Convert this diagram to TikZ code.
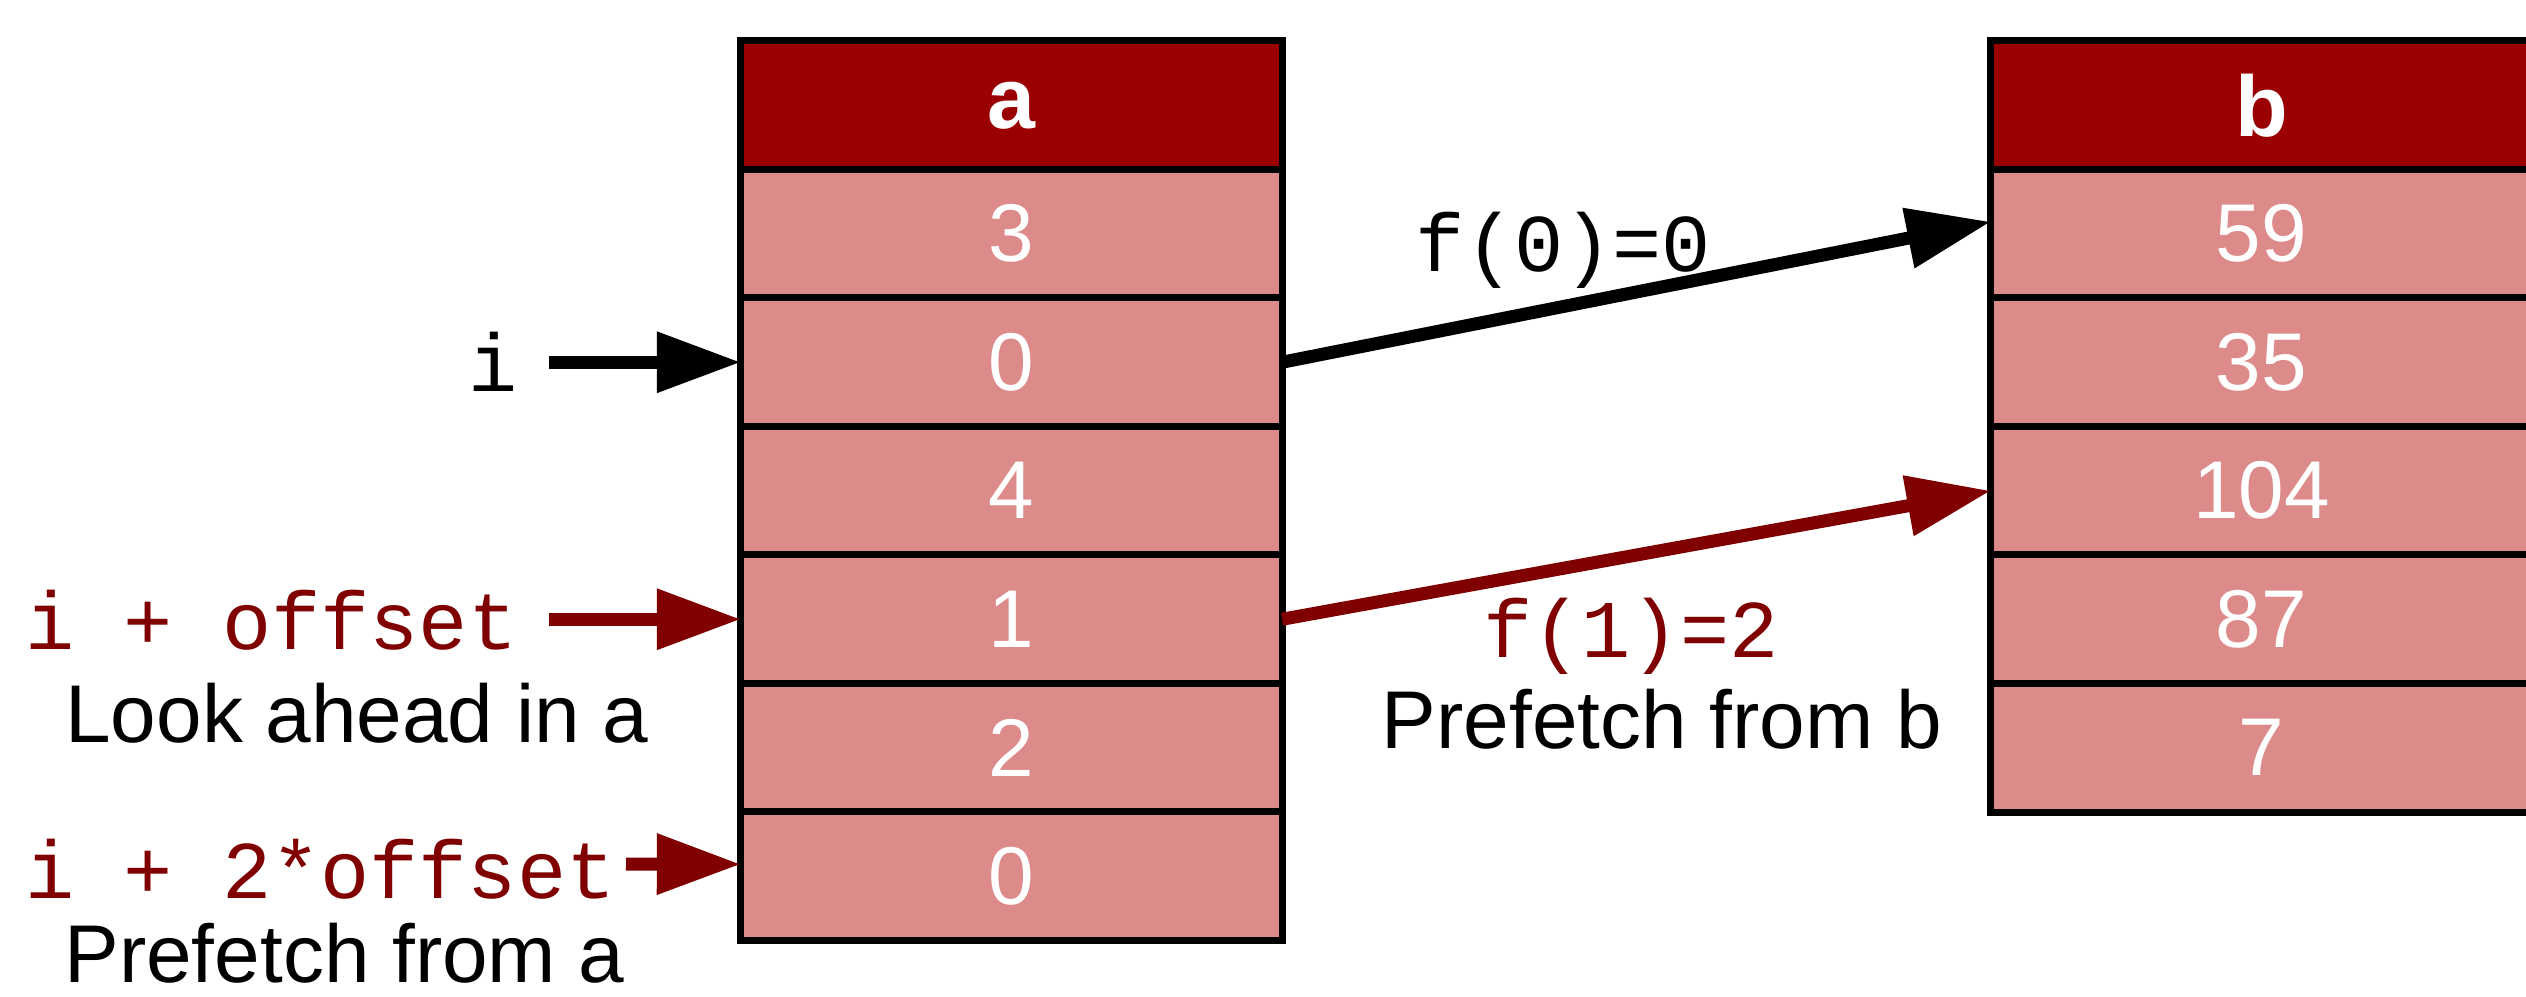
\documentclass[tikz,border=0pt]{standalone}
\usepackage{fontspec}
\setmainfont{Liberation Sans}
\setmonofont{Liberation Mono}
\usetikzlibrary{arrows.meta}
\definecolor{hdr}{RGB}{155,0,0}
\definecolor{cellc}{RGB}{220,138,138}
\definecolor{dred}{RGB}{128,0,0}
\tikzset{
  cell/.style={draw=black, line width=0.07cm, fill=cellc, minimum width=5.41cm,
    minimum height=1.285cm, inner sep=0pt, outer sep=0pt, text=white,
    font=\fontsize{23.3}{28}\selectfont},
  hdrcell/.style={cell, fill=hdr, font=\fontsize{24.5}{28}\selectfont\bfseries},
  lbl/.style={inner sep=0pt, outer sep=0pt, anchor=base, font=\fontsize{23.3}{28}\selectfont},
  code/.style={lbl, font=\fontsize{23.3}{28}\selectfont\ttfamily},
  ptr/.style={line width=0.13cm, -{Triangle[length=0.84cm,width=0.58cm]}},
}
\begin{document}
\begin{tikzpicture}[x=0.01cm,y=-0.01cm]
\useasboundingbox (0,0) rectangle (2526,997);
\fill[white] (0,0) rectangle (2526,997);
% table a
\node[hdrcell] (ah) at (1011.5,105.25) {a};
\node[cell] (a1) at (1011.5,233.75) {3};
\node[cell] (a2) at (1011.5,362.25) {0};
\node[cell] (a3) at (1011.5,490.75) {4};
\node[cell] (a4) at (1011.5,619.25) {1};
\node[cell] (a5) at (1011.5,747.75) {2};
\node[cell] (a6) at (1011.5,876.25) {0};
% table b
\node[hdrcell] (bh) at (2261.5,105.25) {b};
\node[cell] (b1) at (2261.5,233.75) {59};
\node[cell] (b2) at (2261.5,362.25) {35};
\node[cell] (b3) at (2261.5,490.75) {104};
\node[cell] (b4) at (2261.5,619.25) {87};
\node[cell] (b5) at (2261.5,747.75) {7};
% labels
\node[code] (li) at (493,391) {i};
\node[code, text=dred] (lio) at (271.5,649) {i + offset};
\node[lbl] (lla) at (357,742) {Look ahead in a};
\node[code, text=dred] (li2o) at (320.5,898) {i + 2*offset};
\node[lbl] (lpa) at (344.5,982) {Prefetch from a};
\node[code] (lf0) at (1563.5,272) {f(0)=0};
\node[code, text=dred] (lf1) at (1631,657) {f(1)=2};
\node[lbl] (lpb) at (1662,748) {Prefetch from b};
% connectors
\coordinate (iS) at (549,362.25);
\coordinate (ioS) at (549,619.25);
\coordinate (i2S) at (626,864);
\draw[ptr] (iS) -- (a2.west);
\draw[ptr, dred] (ioS) -- (a4.west);
\draw[ptr, dred] (i2S) -- ([yshift=0.12cm]a6.west);
\draw[ptr] (a2.east) -- ([yshift=0.12cm]b1.west);
\draw[ptr, dred] (a4.east) -- (b3.west);
\end{tikzpicture}
\end{document}
